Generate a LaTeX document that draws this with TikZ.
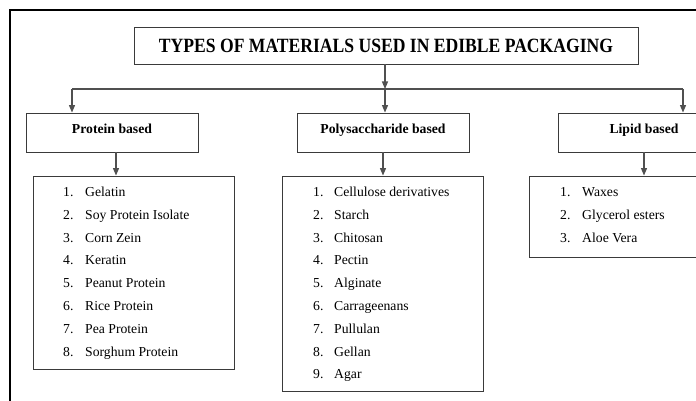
\documentclass[tikz,border=0pt]{standalone}
\usepackage{fontspec}
\setmainfont{Liberation Serif}
\usetikzlibrary{arrows.meta}
\definecolor{linegray}{HTML}{3A3A3A}
\definecolor{arrgray}{HTML}{505050}
\tikzset{
  box/.style={draw=linegray, line width=0.9pt, rectangle, inner sep=0pt},
  subbox/.style={box, minimum width=172pt, minimum height=39pt, text height=9.6pt, text depth=7pt, font=\fontsize{13.7}{16}\selectfont\bfseries},
  listbox/.style={box, minimum width=201pt},
  conn/.style={draw=arrgray, line width=1.1pt},
  arr/.style={conn, -{Triangle[length=7.5pt,width=6pt]}},
  itemnum/.style={anchor=base west, inner sep=0pt, font=\fontsize{13.7}{16}\selectfont},
  itemtxt/.style={anchor=base west, inner sep=0pt, font=\fontsize{13.7}{16}\selectfont},
}
\begin{document}
\begin{tikzpicture}[x=1pt,y=-1pt]
\useasboundingbox (0,0) rectangle (696,401);
\clip (0,0) rectangle (696,401);
% outer frame (cropped)
\draw[line width=1.8pt] (10,420) -- (10,10) -- (720,10);
% title
\node[box, minimum width=504pt, minimum height=37pt] (title) at (386,45.5)
  {\fontsize{17.6}{20}\selectfont\bfseries\scalebox{1}[1.15]{TYPES OF MATERIALS USED IN EDIBLE PACKAGING}};
% junctions
\coordinate (jc) at (385,89);
\coordinate (jl) at (72,89);
\coordinate (jr) at (683,89);
\draw[arr] (title.south -| jc) -- (jc);
\draw[conn] (jl) -- (jr);
% category boxes
\node[subbox] (prot) at (112,132.5) {Protein based};
\node[subbox] (poly) at (383,132.5) {Polysaccharide based};
\node[subbox] (lip) at (644,132.5) {Lipid based};
\draw[arr] (jl) -- (jl |- prot.north);
\draw[arr] (jc) -- (jc |- poly.north);
\draw[arr] (jr) -- (jr |- lip.north);
% list boxes
\node[listbox, minimum height=193pt] (plist) at (133.5,272.5) {};
\node[listbox, minimum height=215pt] (slist) at (382.5,283.5) {};
\node[listbox, minimum width=232pt, minimum height=81pt] (llist) at (645,216.5) {};
\draw[arr] ([xshift=4pt]prot.south) -- ([xshift=4pt]prot.south |- plist.north);
\draw[arr] (poly.south) -- (poly.south |- slist.north);
\draw[arr] (lip.south) -- (lip.south |- llist.north);
% protein items
\foreach \t [count=\i] in {Gelatin, Soy Protein Isolate, Corn Zein, Keratin, Peanut Protein, Rice Protein, Pea Protein, Sorghum Protein}{
  \node[itemnum] (pn\i) at (63,{196.5+22.8*(\i-1)}) {\i.};
  \node[itemtxt] (pt\i) at (85,{196.5+22.8*(\i-1)}) {\t};
}
% polysaccharide items
\foreach \t [count=\i] in {Cellulose derivatives, Starch, Chitosan, Pectin, Alginate, Carrageenans, Pullulan, Gellan, Agar}{
  \node[itemnum] (sn\i) at (313,{196.5+22.8*(\i-1)}) {\i.};
  \node[itemtxt] (st\i) at (334,{196.5+22.8*(\i-1)}) {\t};
}
% lipid items
\foreach \t [count=\i] in {Waxes, Glycerol esters, Aloe Vera}{
  \node[itemnum] (ln\i) at (560,{196.5+22.8*(\i-1)}) {\i.};
  \node[itemtxt] (lt\i) at (582,{196.5+22.8*(\i-1)}) {\t};
}
\end{tikzpicture}
\end{document}
